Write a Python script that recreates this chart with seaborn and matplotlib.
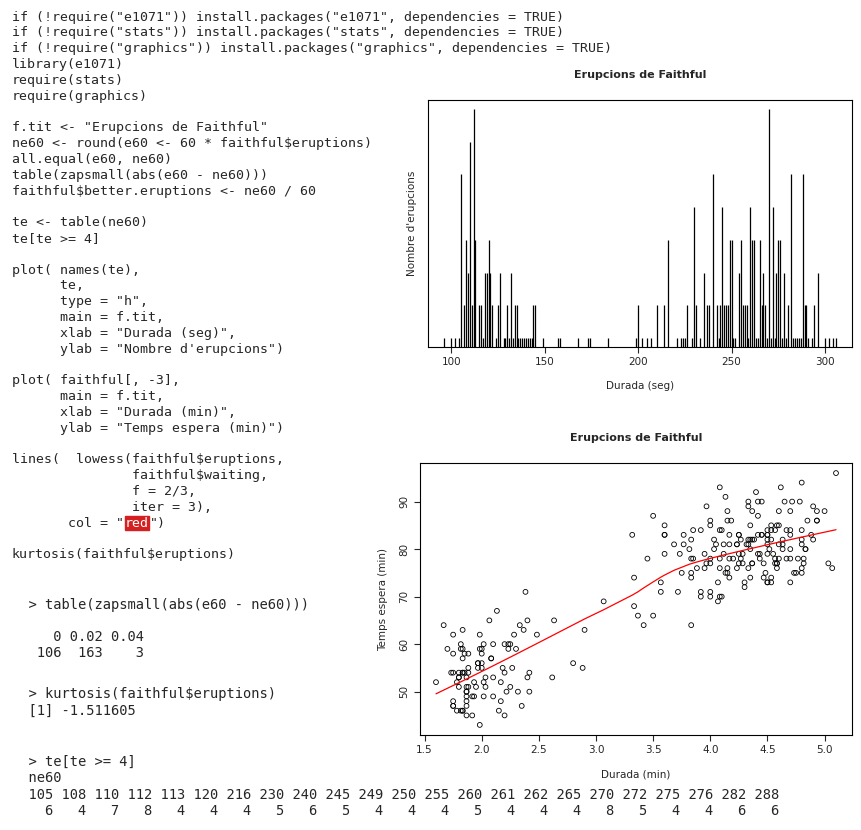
import numpy as np
import matplotlib
matplotlib.use("Agg")
import matplotlib.pyplot as plt
import seaborn as sns

eruptions = [3.600,1.800,3.333,2.283,4.533,2.883,4.700,3.600,1.950,4.350,1.833,3.917,4.200,1.750,4.700,2.167,1.750,4.800,1.600,4.250,
1.800,1.750,3.450,3.067,4.533,3.600,1.967,4.083,3.850,4.433,4.300,4.467,3.367,4.033,3.833,2.017,1.867,4.833,1.833,4.783,
4.350,1.883,4.567,1.750,4.533,3.317,3.833,2.100,4.633,2.000,4.800,4.716,1.833,4.833,1.733,4.883,3.717,1.667,4.567,4.317,
2.233,4.500,1.750,4.800,1.817,4.400,4.167,4.700,2.067,4.700,4.033,1.967,4.500,4.000,1.983,5.067,2.017,4.567,3.883,3.600,
4.133,4.333,4.100,2.633,4.067,4.933,3.950,4.517,2.167,4.000,2.200,4.333,1.867,4.817,1.833,4.300,4.667,3.750,1.867,4.900,
2.483,4.367,2.100,4.500,4.050,1.867,4.700,1.783,4.850,3.683,4.733,2.300,4.900,4.417,1.700,4.633,2.317,4.600,1.817,4.417,
2.617,4.067,4.250,1.967,4.600,3.767,1.917,4.500,2.267,4.650,1.867,4.167,2.800,4.333,1.833,4.383,1.883,4.933,2.033,3.733,
4.233,2.233,4.533,4.817,4.333,1.983,4.633,2.017,5.100,1.800,5.033,4.000,2.400,4.600,3.567,4.000,4.500,4.083,1.800,3.967,
2.200,4.150,2.000,3.833,3.500,4.583,2.367,5.000,1.933,4.617,1.917,2.083,4.583,3.333,4.167,4.333,4.500,2.417,4.000,4.167,
1.883,4.583,4.250,3.767,2.033,4.433,4.083,1.833,4.417,2.183,4.800,1.833,4.800,4.100,3.966,4.233,3.500,4.366,2.250,4.667,
2.100,4.350,4.133,1.867,4.600,1.783,4.367,3.850,1.933,4.500,2.383,4.700,1.867,3.833,3.417,4.233,2.400,4.800,2.000,4.150,
1.867,4.267,1.750,4.483,4.000,4.117,4.083,4.267,3.917,4.550,4.083,2.417,4.183,2.217,4.450,1.883,1.850,4.283,3.950,2.333,
4.150,2.350,4.933,2.900,4.583,3.833,2.083,4.367,2.133,4.350,2.200,4.450,3.567,4.500,4.150,3.817,3.917,4.450,2.000,4.283,
4.767,4.533,1.850,4.250,1.983,2.250,4.750,4.117,2.150,4.417,1.817,4.467]
waiting = [79,54,74,62,85,55,88,85,51,85,54,84,78,47,83,52,62,84,52,79,
51,47,78,69,74,83,55,76,78,79,73,77,66,80,74,52,48,80,59,90,
80,58,84,58,73,83,64,53,82,59,75,90,54,80,54,83,71,64,77,81,
59,84,48,82,60,92,78,78,65,73,82,56,79,71,62,76,60,78,76,83,
75,82,70,65,73,88,76,80,48,86,60,90,50,78,63,72,84,75,51,82,
62,88,49,83,81,47,84,52,86,81,75,59,89,79,59,81,50,85,59,87,
53,69,77,56,88,81,45,82,55,90,45,83,56,89,46,82,51,86,53,79,
81,60,82,77,76,59,80,49,96,53,77,77,65,81,71,70,81,93,53,89,
45,86,58,78,66,76,63,88,52,93,49,57,77,68,81,81,73,50,85,74,
55,77,83,83,51,78,84,46,83,55,81,57,76,84,77,81,87,77,51,78,
60,82,91,53,78,46,77,84,49,83,71,80,49,75,64,76,53,94,55,76,
50,82,54,75,78,79,78,78,70,79,70,54,86,50,90,54,54,77,79,64,
75,47,86,63,85,82,57,82,67,74,54,83,73,73,88,80,71,83,56,79,
78,84,58,83,43,60,75,81,46,90,46,74]

code_lines = [
 'if (!require("e1071")) install.packages("e1071", dependencies = TRUE)',
 'if (!require("stats")) install.packages("stats", dependencies = TRUE)',
 'if (!require("graphics")) install.packages("graphics", dependencies = TRUE)',
 'library(e1071)', 'require(stats)', 'require(graphics)', '',
 'f.tit <- "Erupcions de Faithful"',
 'ne60 <- round(e60 <- 60 * faithful$eruptions)',
 'all.equal(e60, ne60)',
 'table(zapsmall(abs(e60 - ne60)))',
 'faithful$better.eruptions <- ne60 / 60', '',
 'te <- table(ne60)', 'te[te >= 4]', '',
 'plot( names(te),', '      te,', '      type = "h",', '      main = f.tit,',
 '      xlab = "Durada (seg)",', '      ylab = "Nombre d\'erupcions")', '',
 'plot( faithful[, -3],', '      main = f.tit,', '      xlab = "Durada (min)",',
 '      ylab = "Temps espera (min)")', '',
 'lines(  lowess(faithful$eruptions,', '               faithful$waiting,',
 '               f = 2/3,', '               iter = 3),', '       col = "', '',
 'kurtosis(faithful$eruptions)']
out_lines = [(605, '  > table(zapsmall(abs(e60 - ne60)))'), (637, '     0 0.02 0.04'),
 (653, '   106  163    3'), (694, '  > kurtosis(faithful$eruptions)'), (711, '  [1] -1.511605'),
 (762, '  > te[te >= 4]'), (778, '  ne60'),
 (795, '  105 108 110 112 113 120 216 230 240 245 249 250 255 260 261 262 265 270 272 275 276 282 288'),
 (811, '    6   4   7   8   4   4   4   5   6   5   4   4   4   5   4   4   4   8   5   4   4   6   6')]

def lowess(x, y, f=2/3, it=3):
    x = np.asarray(x, float); y = np.asarray(y, float)
    o = np.argsort(x, kind="stable"); x = x[o]; y = y[o]
    n = len(x); ns = max(min(int(f*n + 1e-7), n), 2)
    rw = np.ones(n); ys = np.zeros(n)
    for _ in range(it + 1):
        for i in range(n):
            d = np.abs(x - x[i]); h = np.sort(d)[ns-1]
            w = np.clip(1 - (d / max(h, 1e-12))**3, 0, None)**3 * rw
            w[d > h] = 0
            sw = w.sum(); xm = (w*x).sum()/sw; ym = (w*y).sum()/sw
            b = (w*(x-xm)**2).sum()
            ys[i] = ym + ((w*(x-xm)*(y-ym)).sum()/b*(x[i]-xm) if b > 1e-12 else 0)
        res = y - ys; m = np.median(np.abs(res))*6
        rw = np.clip(1-(res/m)**2, 0, None)**2 if m > 0 else np.ones(n)
    return x, ys

sns.set_style("white")
plt.rcParams['font.family'] = ['DejaVu Sans']
fig = plt.figure(figsize=(8.62, 8.3), dpi=100)
W, H = 862, 830
FS = 9.55
CW = FS * 0.602 * 100 / 72
mono = dict(family='DejaVu Sans Mono', fontsize=FS, va='center')
for i, s in enumerate(code_lines):
    yy = 17 + i*15.82
    fig.text(12/W, 1-yy/H, s, **mono)
    if s.endswith('col = "'):
        fig.text((12 + 14*CW + 1)/W, 1-yy/H, 'red', color='white', family='DejaVu Sans Mono',
                 fontsize=FS, va='center', bbox=dict(boxstyle='square,pad=0.02', fc='#d42020', ec='#d42020'))
        fig.text((12 + 17*CW + 2)/W, 1-yy/H, '")', **mono)
for yy, s in out_lines:
    fig.text(12/W, 1-yy/H, s, family='DejaVu Sans Mono', fontsize=9.95, va='center')

def style(ax):
    for sp in ax.spines.values():
        sp.set_visible(True); sp.set_color('black'); sp.set_linewidth(0.8)
    ax.tick_params(axis='both', length=4, width=0.8, labelsize=7.5, direction='out', left=True, bottom=True)

# top plot
ne60 = np.round(60*np.asarray(eruptions))
vals, cnts = np.unique(ne60, return_counts=True)
ax1 = fig.add_axes([428/W, 1-347/H, 424/W, 247/H])
ax1.vlines(vals, 0, cnts, color='black', lw=0.9)
r = vals.max()-vals.min(); ax1.set_xlim(vals.min()-0.04*r, vals.max()+0.04*r)
r = cnts.max()-cnts.min(); ax1.set_ylim(cnts.min()-0.04*r, cnts.max()+0.04*r)
ax1.set_xticks([100,150,200,250,300]); ax1.set_yticks([])
style(ax1)
ax1.set_title("Erupcions de Faithful", fontsize=8, fontweight='bold', pad=16)
ax1.set_xlabel("Durada (seg)", fontsize=7.5, labelpad=10)
ax1.set_ylabel("Nombre d'erupcions", fontsize=7.5, labelpad=8)

# bottom plot
ax2 = fig.add_axes([420/W, 1-735/H, 432/W, 272/H])
sns.scatterplot(x=eruptions, y=waiting, ax=ax2, marker='o', s=12, facecolor='none',
                edgecolor='black', linewidth=0.6)
lx, ly = lowess(eruptions, waiting)
sns.lineplot(x=lx, y=ly, ax=ax2, color='red', lw=0.9, estimator=None, sort=False)
ex = np.asarray(eruptions); wy = np.asarray(waiting)
r = ex.max()-ex.min(); ax2.set_xlim(ex.min()-0.04*r, ex.max()+0.04*r)
r = wy.max()-wy.min(); ax2.set_ylim(wy.min()-0.04*r, wy.max()+0.04*r)
ax2.set_xticks(np.arange(1.5, 5.01, 0.5)); ax2.set_yticks([50,60,70,80,90])
style(ax2)
for t in ax2.get_yticklabels(): t.set_rotation(90); t.set_va('center')
ax2.set_title("Erupcions de Faithful", fontsize=8, fontweight='bold', pad=16)
ax2.set_xlabel("Durada (min)", fontsize=7.5, labelpad=10)
ax2.set_ylabel("Temps espera (min)", fontsize=7.5, labelpad=8)

fig.savefig("out.png", dpi=100)
